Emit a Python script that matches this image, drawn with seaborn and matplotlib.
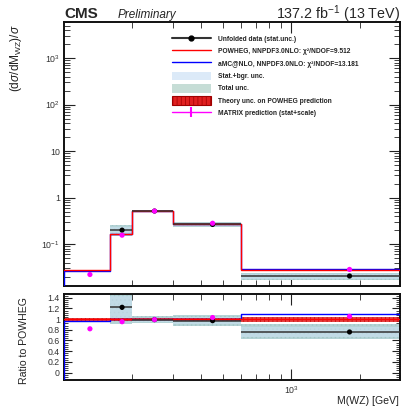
import numpy as np
import matplotlib
matplotlib.use("Agg")
import matplotlib.pyplot as plt
import seaborn as sns
from matplotlib.lines import Line2D
from matplotlib.patches import Patch
from matplotlib.ticker import FixedLocator, FixedFormatter, LogLocator, NullFormatter, MultipleLocator

# ---------------- data ----------------
bin_edges = [100, 160, 200, 300, 600, 3000]
bin_centers = [130, 180, 250, 450, 1800]
powheg = [0.027, 0.163, 0.518, 0.272, 0.027]
powheg_theory_rel = [0.03, 0.03, 0.02, 0.03, 0.045]
amcnlo = [0.0262, 0.163, 0.520, 0.275, 0.0295]
data = [np.nan, 0.199, 0.513, 0.264, 0.0205]
data_stat_rel = [np.nan, 0.035, 0.01, 0.015, 0.03]
stat_bgr_rel = [np.nan, 0.17, 0.04, 0.07, 0.12]
total_rel = [np.nan, 0.26, 0.065, 0.11, 0.185]
matrix = [0.0221, 0.155, 0.513, 0.280, 0.0284]
matrix_unc_rel = [0.02, 0.02, 0.01, 0.02, 0.03]

legend_labels = [
    "Unfolded data (stat.unc.)",
    "POWHEG, NNPDF3.0NLO: \u03c7\u00b2/NDOF=9.512",
    "aMC@NLO, NNPDF3.0NLO: \u03c7\u00b2/NDOF=13.181",
    "Stat.+bgr. unc.",
    "Total unc.",
    "Theory unc. on POWHEG prediction",
    "MATRIX prediction (stat+scale)",
]

# ---------------- style ----------------
sns.set_style("ticks")
plt.rcParams['font.family'] = ['Liberation Sans', 'DejaVu Sans']
plt.rcParams['mathtext.fontset'] = 'custom'
plt.rcParams['mathtext.rm'] = 'Liberation Sans'
plt.rcParams['mathtext.it'] = 'Liberation Sans:italic'
plt.rcParams['mathtext.bf'] = 'Liberation Sans:bold'
plt.rcParams['hatch.linewidth'] = 0.5

C_RED = "#ff0000"
C_BLUE = "#0000ff"
C_MAG = "#ff00ff"
C_TOT = "#b4d3d6"
C_STAT = "#cfe3f6"

fig = plt.figure(figsize=(4.03, 4.08), dpi=100)
ax = fig.add_axes([64/403, 1-286/408, 336/403, 264/408])
rax = fig.add_axes([64/403, 1-380/408, 336/403, 86/408])

edges = np.array(bin_edges, float)
pw = np.array(powheg)
am = np.array(amcnlo)
dt = np.array(data)
mx = np.array(matrix)
cen = np.array(bin_centers, float)

def step_xy(vals):
    return edges, np.append(vals, vals[-1])

LW = 1.0
MS = 14

# ---------- top panel ----------
for i in range(len(cen)):
    lo, hi = edges[i], edges[i+1]
    if np.isfinite(dt[i]):
        ax.fill_between([lo, hi], dt[i]*(1-total_rel[i]), dt[i]*(1+total_rel[i]),
                        color=C_TOT, lw=0, hatch='....', edgecolor='#a3c6c6', zorder=1)
        ax.fill_between([lo, hi], dt[i]*(1-stat_bgr_rel[i]), dt[i]*(1+stat_bgr_rel[i]),
                        color=C_STAT, alpha=0.5, lw=0, zorder=1.5)
    ax.fill_between([lo, hi], pw[i]*(1-powheg_theory_rel[i]), pw[i]*(1+powheg_theory_rel[i]),
                    color='#e03030', alpha=0.8, lw=0, zorder=2)

x, y = step_xy(am)
sns.lineplot(x=np.r_[edges[0], x], y=np.r_[1e-3, y], drawstyle='steps-post', color=C_BLUE,
             lw=LW, ax=ax, estimator=None, sort=False, zorder=3)
x, y = step_xy(pw)
sns.lineplot(x=x, y=y, drawstyle='steps-post', color=C_RED, lw=LW, ax=ax,
             estimator=None, sort=False, zorder=4)

xerr_lo = cen - edges[:-1]
xerr_hi = edges[1:] - cen
ok = np.isfinite(dt)
ax.errorbar(cen[ok], dt[ok], xerr=[xerr_lo[ok], xerr_hi[ok]], yerr=dt[ok]*np.array(data_stat_rel)[ok],
            fmt='none', ecolor='#333333', elinewidth=1.1, zorder=5)
sns.scatterplot(x=cen[ok], y=dt[ok], color='black', s=MS, edgecolor='none', ax=ax, zorder=6)
ax.errorbar(cen, mx, yerr=mx*np.array(matrix_unc_rel), fmt='none', ecolor=C_MAG, elinewidth=1.1, zorder=7)
sns.scatterplot(x=cen, y=mx, color=C_MAG, s=MS, edgecolor='none', ax=ax, zorder=8)

ax.set_xscale('log')
ax.set_yscale('log')
ax.set_xlim(100, 3000)
ax.set_ylim(0.0125, 6000)
ax.set_xlabel('')
ax.set_ylabel('')

# ---------- ratio panel ----------
r_dt = dt / pw
r_am = am / pw
r_mx = mx / pw
for i in range(len(cen)):
    lo, hi = edges[i], edges[i+1]
    if np.isfinite(r_dt[i]):
        rax.fill_between([lo, hi], r_dt[i]*(1-total_rel[i]), r_dt[i]*(1+total_rel[i]),
                         color=C_TOT, lw=0, hatch='....', edgecolor='#a3c6c6', zorder=1)
        rax.fill_between([lo, hi], r_dt[i]*(1-stat_bgr_rel[i]), r_dt[i]*(1+stat_bgr_rel[i]),
                         color=C_STAT, alpha=0.5, lw=0, zorder=1.5)
    rax.fill_between([lo, hi], 1-powheg_theory_rel[i], 1+powheg_theory_rel[i],
                     color='#e02020', alpha=0.85, lw=0, hatch='||||', edgecolor='#c00000', zorder=2)

x, y = step_xy(r_am)
sns.lineplot(x=np.r_[edges[0], x], y=np.r_[-1, y], drawstyle='steps-post', color=C_BLUE,
             lw=LW, ax=rax, estimator=None, sort=False, zorder=3)
x, y = step_xy(np.ones_like(pw))
sns.lineplot(x=x, y=y, drawstyle='steps-post', color=C_RED, lw=LW, ax=rax,
             estimator=None, sort=False, zorder=4)
rax.errorbar(cen[ok], r_dt[ok], xerr=[xerr_lo[ok], xerr_hi[ok]],
             yerr=r_dt[ok]*np.array(data_stat_rel)[ok],
             fmt='none', ecolor='#333333', elinewidth=1.1, zorder=5)
sns.scatterplot(x=cen[ok], y=r_dt[ok], color='black', s=MS, edgecolor='none', ax=rax, zorder=6)
rax.errorbar(cen, r_mx, yerr=r_mx*np.array(matrix_unc_rel), fmt='none', ecolor=C_MAG,
             elinewidth=1.1, zorder=7)
sns.scatterplot(x=cen, y=r_mx, color=C_MAG, s=MS, edgecolor='none', ax=rax, zorder=8)

rax.set_xscale('log')
rax.set_xlim(100, 3000)
rax.set_ylim(-0.14, 1.47)
rax.set_xlabel('')
rax.set_ylabel('')

# ---------- ticks ----------
def decade_label(v):
    e = int(round(np.log10(v)))
    if e == 0:
        return "1"
    if e == 1:
        return "10"
    return r"$10^{%d}$" % e

yt = [0.1, 1, 10, 100, 1000]
ax.yaxis.set_major_locator(FixedLocator(yt))
ax.yaxis.set_major_formatter(FixedFormatter([decade_label(v) for v in yt]))
ax.yaxis.set_minor_locator(LogLocator(base=10, subs=np.arange(2, 10), numticks=20))
ax.yaxis.set_minor_formatter(NullFormatter())
for a in (ax, rax):
    a.xaxis.set_major_locator(FixedLocator([1000]))
    a.xaxis.set_minor_locator(LogLocator(base=10, subs=np.arange(2, 10), numticks=20))
    a.xaxis.set_minor_formatter(NullFormatter())
    a.tick_params(which='both', direction='in', top=True, right=True, labelsize=6.3, colors='#222222',
                  labelcolor='#333333', pad=3)
    a.tick_params(which='major', length=8, width=0.8)
    a.tick_params(which='minor', length=4, width=0.6)
    for s in a.spines.values():
        s.set_linewidth(1.4)
        s.set_color('#111111')
ax.tick_params(axis='x', labelbottom=False)
rax.xaxis.set_major_formatter(FixedFormatter([r"$10^{3}$"]))
rt = [0, 0.2, 0.4, 0.6, 0.8, 1.0, 1.2, 1.4]
rax.yaxis.set_major_locator(FixedLocator(rt))
rax.yaxis.set_major_formatter(FixedFormatter(["0", "0.2", "0.4", "0.6", "0.8", "1", "1.2", "1.4"]))
rax.yaxis.set_minor_locator(MultipleLocator(0.04))
rax.tick_params(axis='y', which='major', length=6)
rax.tick_params(axis='y', which='minor', length=3)

# ---------- texts ----------
fig.text(64/403, 1-14/408, "CMS", fontsize=11, fontweight='bold', va='center', ha='left')
fig.text(118/403, 1-15/408, "Preliminary", fontsize=8.5, style='italic', va='center', ha='left')
fig.text(400/403, 1-14/408, r"137.2 fb$^{-1}$ (13 TeV)", fontsize=10.3, va='center', ha='right')
fig.text(16/403, 1-24/408, r"(d$\sigma$/dM$_{\mathregular{WZ}}$)/$\sigma$", rotation=90, fontsize=8.6,
         va='top', ha='center', color='#222222')
fig.text(24/403, 1-341/408, "Ratio to POWHEG", rotation=90, fontsize=7.6, va='center', ha='center',
         color='#222222')
fig.text(399/403, 1-401/408, "M(WZ) [GeV]", fontsize=7.6, va='center', ha='right', color='#222222')

# ---------- legend ----------
handles = [
    Line2D([], [], color='#333333', lw=1.5, marker='o', markersize=3.5, markerfacecolor='black',
           markeredgecolor='black'),
    Line2D([], [], color=C_RED, lw=1.0),
    Line2D([], [], color=C_BLUE, lw=1.0),
    Patch(facecolor='#dceaf8', edgecolor='none', hatch='....'),
    Patch(facecolor='#c6ddd6', edgecolor='none', hatch='....'),
    Patch(facecolor='#e02020', edgecolor='#a00000', hatch='||||', lw=0.8),
    (Line2D([], [], color=C_MAG, lw=1.0), Line2D([], [], color=C_MAG, marker='|', markersize=7, lw=0,
                                                  markeredgewidth=1.5)),
]
leg = fig.legend(handles, legend_labels, loc='upper left', bbox_to_anchor=(172/403, 1-34.5/408),
                 frameon=False, prop={'size': 4.8, 'weight': 'bold'}, handlelength=5.8,
                 handleheight=1.6, labelspacing=0.57, handletextpad=1.1, borderpad=0, borderaxespad=0)
for t in leg.get_texts():
    t.set_color('#222222')

fig.savefig("out.png", dpi=100)
